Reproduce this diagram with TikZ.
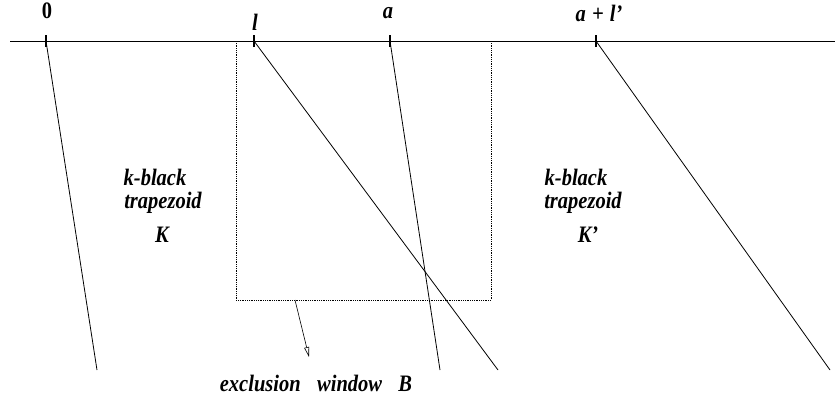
\documentclass[tikz,border=0pt]{standalone}
\usepackage{fontspec}
\setmainfont{Liberation Serif}
\usetikzlibrary{arrows.meta}
\begin{document}
\begin{tikzpicture}[x=1pt,y=-1pt,
  lbl/.style={font=\fontsize{20.5}{22}\selectfont\bfseries\itshape, inner sep=0pt, anchor=base, yscale=1.15, transform shape},
  tick/.style={line width=1.2pt},
  ln/.style={line width=0.8pt}]
\useasboundingbox (0,0) rectangle (835,402);
\draw[line width=0.9pt] (10,41) -- (835,41);
% ticks
\coordinate (t0) at (46,41);
\coordinate (tl) at (254,41);
\coordinate (ta) at (390,41);
\coordinate (tal) at (596,41);
\foreach \c in {t0,tl,ta,tal} \draw[tick] ([yshift=-6pt]\c) -- ([yshift=6pt]\c);
% line ends
\coordinate (b0) at (97,370);
\coordinate (bl) at (498,370);
\coordinate (ba) at (440,370);
\coordinate (bal) at (830,370);
\draw[ln] (t0) -- (b0);
\draw[ln] (tl) -- (bl);
\draw[ln] (ta) -- (ba);
\draw[ln] (tal) -- (bal);
% window
\draw[densely dotted, line width=0.8pt] (236,41) rectangle (491,300);
\coordinate (wa) at (295,300);
\coordinate (wb) at (309,357);
\draw[line width=0.6pt, -{Triangle[open,length=10pt,width=5pt]}] (wa) -- (wb);
% labels
\node[lbl, font=\fontsize{20.5}{22}\selectfont\bfseries\upshape] (n0) at (47,18) {0};
\node[lbl] (nl) at (255,30) {l};
\node[lbl] (na) at (388,18) {a};
\node[lbl] (nal) at (599,21) {a\hspace{0.3em}+\hspace{0.3em}l’};
\node[lbl] (k1) at (155,185) {k-black};
\node[lbl] (k2) at (163,208) {trapezoid};
\node[lbl] (k3) at (162,242) {K};
\node[lbl] (k4) at (576,185) {k-black};
\node[lbl] (k5) at (583,208) {trapezoid};
\node[lbl] (k6) at (588,242) {K’};
\node[lbl] (ex) at (316,391) {exclusion\hspace{0.8em}window\hspace{0.8em}B};
\end{tikzpicture}
\end{document}
